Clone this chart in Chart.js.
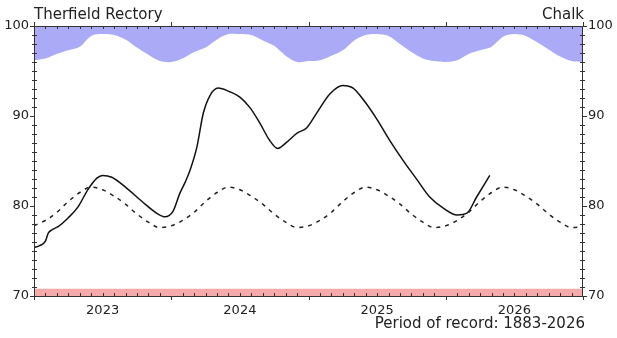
<!DOCTYPE html>
<html>
<head>
<meta charset="utf-8">
<script src="https://cdn.jsdelivr.net/npm/chart.js@4/dist/chart.umd.min.js"></script>
<style>
  html,body{margin:0;padding:0;background:#fff;}
  canvas{display:block;}
</style>
</head>
<body>
<canvas id="gw" width="617" height="338"></canvas>
<script>
// Therfield Rectory (Chalk) - nivel de agua subterranea, meses desde ene 2023
const siteName = 'Therfield Rectory';
const aquifer = 'Chalk';
const recordNote = 'Period of record: 1883-2026';
const yearLabels = ['2023', '2024', '2025', '2026'];
const yearMid = [6, 18, 30, 42];

// nivel medido (linea continua)
const levelMonth = [0, 0.5, 1, 1.25, 1.5, 2.1, 3, 3.85, 4.7, 5.5, 6, 6.8, 8, 9.45, 10.85, 11.45, 12.15, 12.75, 13.2, 13.65, 14.25, 14.8, 15.4, 16.1, 17.1, 18, 18.9, 19.75, 20.6, 21.3, 22.1, 23, 23.85, 24.7, 25.9, 27, 27.9, 28.8, 30, 31.1, 32.25, 33.5, 34.6, 35.75, 37, 37.85, 38.7, 39.85];
const levelValue = [75.4, 75.6, 76.1, 77.0, 77.3, 77.7, 78.7, 79.9, 81.8, 83.1, 83.4, 83.2, 82.1, 80.5, 79.1, 78.8, 79.4, 81.4, 82.6, 84.0, 86.6, 90.3, 92.3, 93.1, 92.7, 92.1, 90.9, 89.2, 87.3, 86.4, 87.1, 88.1, 88.7, 90.3, 92.5, 93.4, 93.1, 91.8, 89.6, 87.3, 85.1, 82.9, 81.0, 79.8, 79.0, 79.2, 81.0, 83.4];

// media mensual de largo plazo (linea discontinua), ene 2023 .. ene 2027
const avgLevel = [77.8, 78.4, 79.3, 80.5, 81.5, 82.1, 81.8, 81.1, 80.2, 79.1, 78.2, 77.6,
                  77.8, 78.4, 79.3, 80.5, 81.5, 82.1, 81.8, 81.1, 80.2, 79.1, 78.2, 77.6,
                  77.8, 78.4, 79.3, 80.5, 81.5, 82.1, 81.8, 81.1, 80.2, 79.1, 78.2, 77.6,
                  77.8, 78.4, 79.3, 80.5, 81.5, 82.1, 81.8, 81.1, 80.2, 79.1, 78.2, 77.6, 77.7];

// borde inferior de la banda de maximos (azul)
const highEdge = [96.2, 96.4, 96.9, 97.3, 97.7, 98.9, 99.1, 99.0, 98.5, 97.6, 96.8, 96.1, 96.0,
                  96.4, 97.1, 97.6, 98.5, 99.1, 99.1, 99.0, 98.4, 97.8, 96.7, 96.0, 96.1,
                  96.2, 96.7, 97.3, 98.4, 99.0, 99.1, 98.9, 98.0, 97.1, 96.4, 96.1, 96.0,
                  96.2, 96.9, 97.3, 97.7, 98.8, 99.1, 98.9, 98.2, 97.4, 96.6, 96.1, 96.0];

// borde superior de la banda de minimos (roja)
const lowEdge = [70.8, 70.8];
const lowMonth = [0, 48];

const pts = (xs, ys) => ys.map((v, i) => ({x: xs ? xs[i] : i, y: v}));

const frameTicks = {
  id: 'frameTicks',
  afterDraw(chart){
    const {ctx, chartArea: a, scales} = chart;
    const xs = scales.x, ys = scales.y;
    ctx.save();
    ctx.strokeStyle = '#333';
    ctx.lineWidth = 1;
    ctx.strokeRect(a.left + 0.5, a.top + 0.5, a.right - a.left - 1, a.bottom - a.top);
    ctx.beginPath();
    for (let m = 0; m <= 48; m++) {
      const px = Math.round(xs.getPixelForValue(m)) + 0.5;
      if (m % 12 === 0) {
        ctx.moveTo(px, a.bottom); ctx.lineTo(px, a.bottom + 4);
        ctx.moveTo(px, a.top); ctx.lineTo(px, a.top - 4);
      } else {
        ctx.moveTo(px, a.bottom); ctx.lineTo(px, a.bottom - 3);
        ctx.moveTo(px, a.top); ctx.lineTo(px, a.top + 3);
      }
    }
    for (let v = 70; v <= 100; v++) {
      const py = Math.round(ys.getPixelForValue(v)) + 0.5;
      if (v % 10 === 0) {
        ctx.moveTo(a.left - 4, py); ctx.lineTo(a.left, py);
        ctx.moveTo(a.right, py); ctx.lineTo(a.right + 4, py);
      } else {
        ctx.moveTo(a.left - 2, py); ctx.lineTo(a.left + 3, py);
        ctx.moveTo(a.right - 3, py); ctx.lineTo(a.right + 2, py);
      }
    }
    ctx.stroke();
    ctx.fillStyle = '#222';
    ctx.font = '15px "DejaVu Sans"';
    ctx.textBaseline = 'alphabetic';
    ctx.textAlign = 'left';
    ctx.fillText(siteName, a.left, 19);
    ctx.textAlign = 'right';
    ctx.fillText(aquifer, a.right + 1, 19);
    ctx.fillText(recordNote, a.right + 2, 328);
    ctx.restore();
  }
};

const tickFont = {family: 'DejaVu Sans', size: 13};

new Chart(document.getElementById('gw'), {
  type: 'line',
  data: {
    datasets: [
      {data: pts(null, highEdge), fill: 'end', backgroundColor: 'rgb(170,170,246)', borderWidth: 0, pointRadius: 0, tension: 0.3},
      {data: pts(lowMonth, lowEdge), fill: 'start', backgroundColor: 'rgb(246,170,170)', borderWidth: 0, pointRadius: 0},
      {data: pts(null, avgLevel), borderColor: '#222', borderWidth: 1.5, borderDash: [4, 5], pointRadius: 0, cubicInterpolationMode: 'monotone', fill: false},
      {data: pts(levelMonth, levelValue), borderColor: '#111', borderWidth: 1.5, pointRadius: 0, cubicInterpolationMode: 'monotone', fill: false}
    ]
  },
  options: {
    responsive: false,
    animation: false,
    devicePixelRatio: 1,
    layout: {padding: {top: 26, left: 0, right: 0, bottom: 0}},
    plugins: {legend: {display: false}, tooltip: {enabled: false}},
    scales: {
      x: {
        type: 'linear', position: 'bottom', min: 0, max: 48,
        grid: {display: false, drawTicks: false},
        border: {display: false},
        ticks: {font: tickFont, color: '#222', padding: 7, maxRotation: 0, autoSkip: false,
                callback: (v) => yearLabels[yearMid.indexOf(v)] || ''},
        afterBuildTicks: (s) => { s.ticks = yearMid.map(v => ({value: v})); },
        afterFit: (s) => { s.height = 42; }
      },
      y: {
        position: 'left', min: 70, max: 100,
        grid: {display: false, drawTicks: false},
        border: {display: false},
        ticks: {font: tickFont, color: '#222', padding: 5, stepSize: 10},
        afterFit: (s) => { s.width = 34; }
      },
      y2: {
        position: 'right', min: 70, max: 100,
        grid: {display: false, drawTicks: false},
        border: {display: false},
        ticks: {font: tickFont, color: '#222', padding: 5, stepSize: 10},
        afterFit: (s) => { s.width = 34; }
      }
    }
  },
  plugins: [frameTicks]
});
</script>
</body>
</html>
